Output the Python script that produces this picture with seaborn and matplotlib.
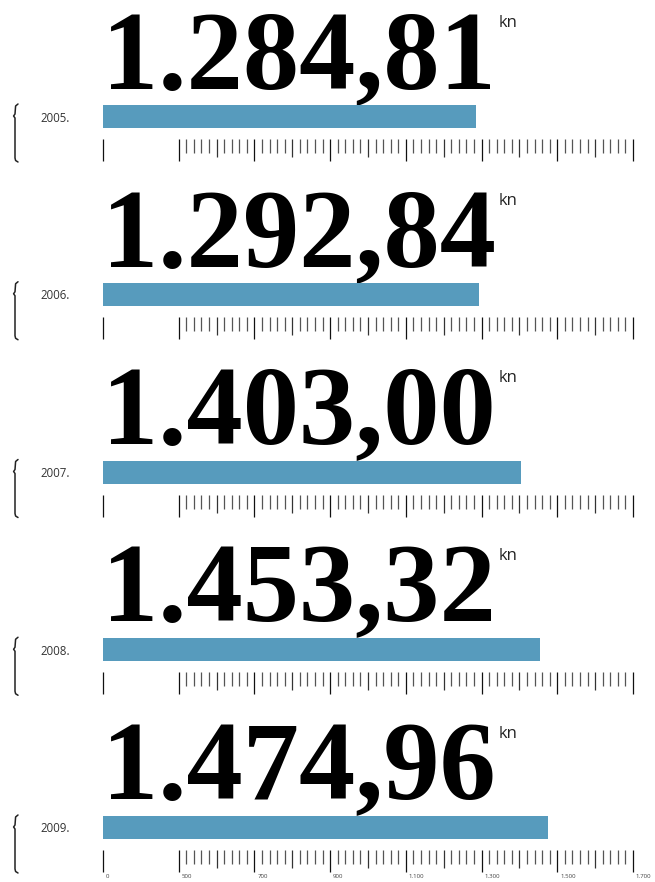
import matplotlib
matplotlib.use("Agg")
import matplotlib.pyplot as plt
from matplotlib.transforms import ScaledTranslation
import seaborn as sns

# data
years = ["2005.", "2006.", "2007.", "2008.", "2009."]
values = [1284.81, 1292.84, 1403.00, 1453.32, 1474.96]
tick_values = [0, 500, 700, 900, 1100, 1300, 1500, 1700]
tick_labels = ["0", "500", "700", "900", "1.100", "1.300", "1.500", "1.700"]

BAR_COLOR = "#579bbd"
W, H = 655, 882
STEP = 177.75


def squash(v):
    # broken axis: 0..500 squeezed into the width of 200
    return v * 200 / 500 if v <= 500 else v - 300


def fmt(v):
    s = f"{v:,.2f}"
    return s.replace(",", "X").replace(".", ",").replace("X", ".")


sns.set_theme(style="white")
plt.rcParams["font.family"] = ["Open Sans", "DejaVu Sans"]

fig = plt.figure(figsize=(W / 100, H / 100), dpi=100)

# background axes in pixel coordinates for the text and braces
bg = fig.add_axes([0, 0, 1, 1])
bg.set_xlim(0, W)
bg.set_ylim(H, 0)
bg.axis("off")

minor_ticks = [squash(v) for v in range(520, 1700, 20) if v % 100 != 0]
mid_ticks = [squash(v) for v in range(600, 1700, 200)]
major_ticks = [squash(v) for v in tick_values]

fig.canvas.draw()
renderer = fig.canvas.get_renderer()

for i, (year, val) in enumerate(zip(years, values)):
    y0 = i * STEP

    # bar axes
    ax = fig.add_axes([103 / W, 1 - (128 + y0) / H, 530 / W, 23 / H])
    sns.barplot(x=[squash(val)], y=[year], orient="h", color=BAR_COLOR,
                saturation=1, width=1, linewidth=0, ax=ax)
    ax.set_xlim(0, 1400)
    ax.set_ylim(0.5, -0.5)
    ax.set_xlabel("")
    ax.set_ylabel("")
    ax.set_yticks([])
    for side in ["left", "top", "right"]:
        ax.spines[side].set_visible(False)
    ax.spines["bottom"].set_position(("outward", 11 * 0.72))
    ax.spines["bottom"].set_color("none")
    ax.set_facecolor("none")

    ax.set_xticks(major_ticks)
    ax.set_xticks(minor_ticks, minor=True)
    ax.tick_params(axis="x", which="both", bottom=True, top=False)
    ax.tick_params(axis="x", which="major", direction="out", length=22 * 0.72,
                   width=0.9, color="#111111", labelsize=4.4,
                   labelcolor="#444444", pad=1.2)
    ax.tick_params(axis="x", which="minor", direction="out", length=14 * 0.72,
                   width=0.9, color="#555555")
    ax.vlines(mid_ticks, -11 / 23, -(11 + 18) / 23, color="#333333",
              linewidth=0.9, transform=ax.get_xaxis_transform(), clip_on=False)
    if i == len(years) - 1:
        ax.set_xticklabels(tick_labels)
        for lab in ax.get_xticklabels():
            lab.set_horizontalalignment("left")
            lab.set_transform(lab.get_transform() +
                              ScaledTranslation(3 / 100, 0, fig.dpi_scale_trans))
    else:
        ax.set_xticklabels([])

    # big number and unit
    num = bg.text(102, 88 + y0, fmt(val), family="Liberation Serif",
                  fontweight="bold", fontsize=81, va="baseline", ha="left",
                  color="black")
    bb = num.get_window_extent(renderer=renderer)
    x_end = bb.x1 / fig.dpi * 100
    bg.text(x_end + 3, 27 + y0, "kn", fontsize=12, va="baseline", ha="left",
            color="#222222")

    # year label
    bg.text(40, 121.5 + y0, year, fontsize=8.3, va="baseline", ha="left",
            color="#333333")

    # brace
    bx = [18, 15.6, 15, 13.6, 15, 15, 15.6, 18]
    by = [104, 106, 114, 116, 118, 158, 160.5, 162]
    bg.plot(bx, [b + y0 for b in by], color="#222222", linewidth=1.1)

fig.savefig("out.png", dpi=100)
